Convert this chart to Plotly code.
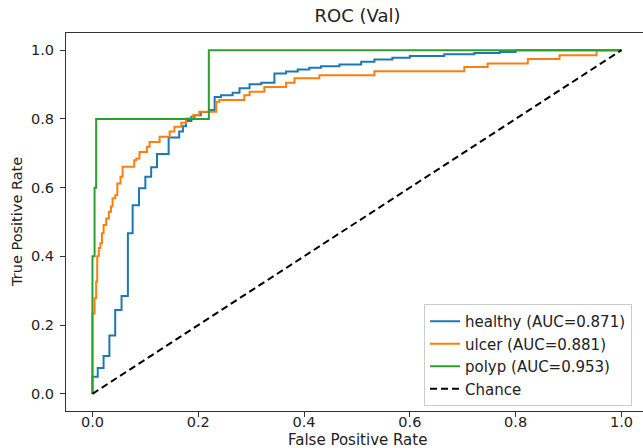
import plotly.graph_objects as go

# ROC curve corner points (fpr, tpr); drawn as horizontal-then-vertical steps
healthy_fpr = [0.0, 0.0, 0.010, 0.021, 0.032, 0.043, 0.055, 0.067, 0.076, 0.088, 0.100, 0.111,
               0.122, 0.144, 0.164, 0.171, 0.177, 0.187, 0.193, 0.205, 0.221, 0.231, 0.243,
               0.265, 0.278, 0.297, 0.319, 0.344, 0.366, 0.388, 0.410, 0.432, 0.467, 0.508,
               0.533, 0.567, 0.600, 0.665, 0.722, 0.770, 0.800, 1.0]
healthy_tpr = [0.0, 0.050, 0.075, 0.110, 0.170, 0.244, 0.285, 0.467, 0.549, 0.598, 0.632, 0.659,
               0.698, 0.746, 0.763, 0.779, 0.794, 0.806, 0.811, 0.820, 0.826, 0.864, 0.869,
               0.876, 0.889, 0.901, 0.905, 0.932, 0.938, 0.944, 0.949, 0.953, 0.958, 0.966,
               0.973, 0.978, 0.983, 0.988, 0.992, 0.995, 1.0, 1.0]

ulcer_fpr = [0.0, 0.0, 0.004, 0.007, 0.009, 0.012, 0.015, 0.018, 0.021, 0.026, 0.031, 0.035,
             0.038, 0.043, 0.047, 0.053, 0.057, 0.079, 0.083, 0.089, 0.103, 0.108, 0.127,
             0.146, 0.155, 0.168, 0.177, 0.190, 0.202, 0.234, 0.240, 0.287, 0.297, 0.325,
             0.366, 0.382, 0.429, 0.533, 0.703, 0.747, 0.823, 0.883, 0.953, 1.0]
ulcer_tpr = [0.0, 0.234, 0.278, 0.326, 0.400, 0.424, 0.438, 0.467, 0.491, 0.510, 0.530, 0.545,
             0.569, 0.578, 0.612, 0.632, 0.661, 0.680, 0.685, 0.704, 0.719, 0.733, 0.748,
             0.763, 0.777, 0.789, 0.801, 0.811, 0.821, 0.850, 0.855, 0.869, 0.879, 0.893,
             0.905, 0.918, 0.927, 0.939, 0.951, 0.961, 0.974, 0.985, 1.0, 1.0]

polyp_fpr = [0.0, 0.0, 0.004, 0.007, 0.220, 1.0]
polyp_tpr = [0.0, 0.4, 0.6, 0.8, 1.0, 1.0]

chance_fpr = [0.0, 1.0]
chance_tpr = [0.0, 1.0]

labels = ["healthy (AUC=0.871)", "ulcer (AUC=0.881)", "polyp (AUC=0.953)", "Chance"]
colors = ["#1f77b4", "#ff7f0e", "#2ca02c", "black"]
tick_vals = [0.0, 0.2, 0.4, 0.6, 0.8, 1.0]
tick_text = ["0.0", "0.2", "0.4", "0.6", "0.8", "1.0"]

FONT = "DejaVu Sans"
TXT = "#222222"

fig = go.Figure()
series = [(healthy_fpr, healthy_tpr), (ulcer_fpr, ulcer_tpr), (polyp_fpr, polyp_tpr)]
for (fx, ty), name, col in zip(series, labels[:3], colors[:3]):
    fig.add_trace(go.Scatter(x=fx, y=ty, mode="lines", name=name,
                             line=dict(color=col, width=2, shape="hv")))
fig.add_trace(go.Scatter(x=chance_fpr, y=chance_tpr, mode="lines", name=labels[3],
                         line=dict(color=colors[3], width=2, dash="7px,4px")))

W, H = 643, 448
L, R, T, B = 66, 0, 33, 37
pw = W - L - R
ph = H - T - B

axis_common = dict(
    showline=True, linecolor="#333333", linewidth=1,
    ticks="outside", ticklen=5, tickwidth=1, tickcolor="#333333",
    showgrid=False, zeroline=False,
    tickvals=tick_vals, ticktext=tick_text,
    tickfont=dict(family=FONT, size=14.5, color=TXT),
)

fig.update_layout(
    width=W, height=H,
    margin=dict(l=L, r=R, t=T, b=B),
    paper_bgcolor="white", plot_bgcolor="white",
    font=dict(family=FONT, size=14, color=TXT),
    title=dict(text="ROC (Val)", x=357.5 / W, xref="container", xanchor="center",
               y=1 - 16 / H, yref="container", yanchor="middle",
               font=dict(family=FONT, size=18, color=TXT)),
    xaxis=dict(range=[-0.05, -0.05 + pw / 529.0], mirror=True, ticklabelstandoff=-7,
               **axis_common),
    yaxis=dict(range=[-0.05, 1.05], mirror=False, ticklabelstandoff=3, **axis_common),
    legend=dict(x=(528 - L) / pw, y=(411 - 406) / ph, xanchor="center", yanchor="bottom",
                bgcolor="rgba(255,255,255,0.8)", bordercolor="#cccccc", borderwidth=1,
                font=dict(family=FONT, size=15, color=TXT),
                tracegroupgap=0, itemwidth=30),
    showlegend=True,
    annotations=[
        dict(text="False Positive Rate", xref="paper", yref="paper",
             x=(357.5 - L) / pw, y=(411 - 440) / ph, xanchor="center", yanchor="middle",
             showarrow=False, font=dict(family=FONT, size=15, color=TXT)),
        dict(text="True Positive Rate", xref="paper", yref="paper",
             x=(17 - L) / pw, y=0.5, xanchor="center", yanchor="middle", textangle=-90,
             showarrow=False, font=dict(family=FONT, size=14.5, color=TXT)),
    ],
)

fig.write_html("out.html", config={"displayModeBar": False},
               post_script="document.body.style.margin='0';document.body.style.overflow='hidden';")
